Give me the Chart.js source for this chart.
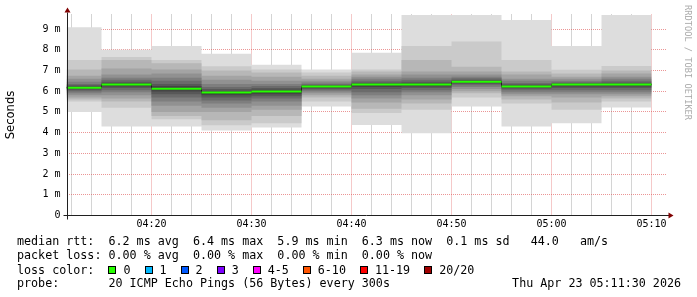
<!DOCTYPE html>
<html>
<head>
<meta charset="utf-8">
<script src="https://cdn.jsdelivr.net/npm/chart.js@4.4.1/dist/chart.umd.min.js"></script>
<style>
html, body { margin: 0; padding: 0; background: #fff; }
#wrap { position: relative; width: 697px; height: 297px; overflow: hidden; background: #fff; }
#chart { position: absolute; left: 0; top: 0; }
.row { position: absolute; left: 17px; font: 11.7px 'DejaVu Sans Mono', monospace; white-space: pre; color: #000; line-height: 14px; }
.box { display: inline-block; width: 6px; height: 6px; border: 1px solid #000; margin-right: 7px; vertical-align: 0px; }
.item { margin-right: 14px; }
#stamp { position: absolute; right: 16px; top: 276px; font: 11.7px 'DejaVu Sans Mono', monospace; white-space: pre; line-height: 14px; }
#credit { position: absolute; left: 693px; top: 5px; transform-origin: 0 0; transform: rotate(90deg); font: 8.7px 'DejaVu Sans Mono', monospace; color: #aaa; white-space: pre; line-height: 10px; }
</style>
</head>
<body>
<div id="wrap">
  <canvas id="chart" width="697" height="297"></canvas>
  <div class="row" style="top:234px">median rtt:  6.2 ms avg  6.4 ms max  5.9 ms min  6.3 ms now  0.1 ms sd   44.0   am/s</div>
  <div class="row" style="top:248px">packet loss: 0.00 % avg  0.00 % max  0.00 % min  0.00 % now</div>
  <div class="row" id="lossRow" style="top:263px">loss color:  </div>
  <div class="row" style="top:276px">probe:       20 ICMP Echo Pings (56 Bytes) every 300s</div>
  <div id="stamp">Thu Apr 23 05:11:30 2026</div>
  <div id="credit">RRDTOOL / TOBI OETIKER</div>
</div>
<script>
// minutes after 04:00; last entry closes the final 5 minute step
const stepStart = [11.5, 15, 20, 25, 30, 35, 40, 45, 50, 55, 60, 65, 70];
const timeTickMin = [20, 30, 40, 50, 60, 70];
const timeTickLabels = ['04:20', '04:30', '04:40', '04:50', '05:00', '05:10'];

// median rtt per step, ms
const medianRtt = [6.17, 6.32, 6.12, 5.93, 5.98, 6.22, 6.32, 6.32, 6.46, 6.22, 6.32, 6.32];

// the 20 sorted pings of each step, ms
const rtt0411 = [5.00, 5.50, 5.60, 5.70, 5.80, 5.90, 5.98, 6.05, 6.10, 6.15, 6.19, 6.23, 6.28, 6.35, 6.45, 6.60, 6.75, 7.05, 7.50, 9.08];
const rtt0415 = [4.30, 5.20, 5.50, 5.65, 5.80, 5.95, 6.05, 6.15, 6.22, 6.28, 6.35, 6.40, 6.45, 6.55, 6.65, 6.80, 7.10, 7.50, 7.65, 8.00];
const rtt0420 = [4.29, 4.65, 4.80, 5.00, 5.30, 5.50, 5.70, 5.85, 5.98, 6.08, 6.15, 6.25, 6.35, 6.50, 6.65, 6.85, 7.05, 7.35, 7.50, 8.18];
const rtt0425 = [4.10, 4.35, 4.60, 5.00, 5.20, 5.40, 5.55, 5.70, 5.80, 5.88, 5.96, 6.00, 6.10, 6.20, 6.35, 6.55, 6.75, 7.00, 7.20, 7.80];
const rtt0430 = [4.25, 4.45, 4.80, 5.10, 5.30, 5.50, 5.65, 5.75, 5.85, 5.93, 6.01, 6.07, 6.15, 6.25, 6.35, 6.50, 6.70, 6.90, 7.05, 7.27];
const rtt0435 = [5.26, 5.50, 5.70, 5.80, 5.90, 5.98, 6.05, 6.10, 6.15, 6.20, 6.23, 6.26, 6.30, 6.35, 6.42, 6.50, 6.60, 6.75, 6.90, 7.05];
const rtt0440 = [4.37, 4.95, 5.15, 5.45, 5.65, 5.80, 5.95, 6.10, 6.20, 6.28, 6.34, 6.38, 6.42, 6.50, 6.60, 6.70, 6.80, 6.95, 7.05, 7.86];
const rtt0445 = [3.97, 5.10, 5.40, 5.60, 5.80, 5.95, 6.05, 6.15, 6.22, 6.28, 6.35, 6.40, 6.45, 6.55, 6.65, 6.80, 6.95, 7.50, 8.18, 9.68];
const rtt0450 = [5.26, 5.70, 5.90, 6.00, 6.10, 6.20, 6.28, 6.35, 6.40, 6.44, 6.47, 6.50, 6.55, 6.62, 6.70, 6.80, 6.95, 7.18, 8.40, 9.68];
const rtt0455 = [4.29, 5.40, 5.60, 5.75, 5.85, 5.95, 6.05, 6.12, 6.17, 6.20, 6.24, 6.28, 6.33, 6.40, 6.50, 6.60, 6.80, 6.95, 7.50, 9.44];
const rtt0500 = [4.45, 5.10, 5.45, 5.70, 5.85, 5.95, 6.05, 6.15, 6.23, 6.30, 6.34, 6.36, 6.40, 6.45, 6.50, 6.60, 6.70, 6.85, 7.03, 8.18];
const rtt0505 = [5.21, 5.50, 5.65, 5.75, 5.85, 5.95, 6.05, 6.15, 6.23, 6.30, 6.34, 6.37, 6.42, 6.50, 6.60, 6.70, 6.85, 7.00, 7.22, 9.68];
const steps = [rtt0411, rtt0415, rtt0420, rtt0425, rtt0430, rtt0435, rtt0440, rtt0445, rtt0450, rtt0455, rtt0500, rtt0505];

const lossLabels = ['0', '1', '2', '3', '4-5', '6-10', '11-19', '20/20'];
const lossColors = ['#26ff00', '#00b8ff', '#0059ff', '#7e00ff', '#ff00ff', '#ff5500', '#ff0000', '#a10000'];

const gridMinor = 'rgba(143, 143, 143, 0.75)';
const gridMajor = 'rgba(222, 79, 79, 0.6)';
const monoFont = "'DejaVu Sans Mono', monospace";

const lossRow = document.getElementById('lossRow');
lossLabels.forEach((label, i) => {
  const item = document.createElement('span');
  item.className = 'item';
  item.innerHTML = '<span class="box" style="background:' + lossColors[i] + '"></span>' + label;
  lossRow.appendChild(item);
});

// series: value of step i holds from stepStart[i] to stepStart[i+1]
function stepSeries(values) {
  const pts = values.map((v, i) => ({ x: stepStart[i], y: v }));
  pts.push({ x: stepStart[stepStart.length - 1], y: values[values.length - 1] });
  return pts;
}

// flat pieces only, no vertical joins (the coloured median bar)
function flatPieces(values) {
  const pts = [];
  values.forEach((v, i) => {
    pts.push({ x: stepStart[i], y: v }, { x: stepStart[i + 1], y: v }, { x: stepStart[i + 1], y: null });
  });
  return pts;
}

const datasets = [];
const pings = steps[0].length;
for (let k = 0; k < pings / 2; k++) {
  const gray = Math.floor(190 / (pings / 2) * (pings / 2 - (k + 1))) + 50;
  const color = 'rgb(' + gray + ',' + gray + ',' + gray + ')';
  datasets.push({
    data: stepSeries(steps.map(s => s[k])),
    stepped: 'before', borderWidth: 0, pointRadius: 0, fill: false, order: 20 - k
  });
  datasets.push({
    data: stepSeries(steps.map(s => s[pings - 1 - k])),
    stepped: 'before', borderWidth: 0, pointRadius: 0, fill: '-1', backgroundColor: color, order: 20 - k
  });
}
datasets.push({
  data: stepSeries(medianRtt),
  stepped: 'before', borderColor: '#202020', borderWidth: 1, pointRadius: 0, fill: false, order: 1
});
datasets.push({
  data: flatPieces(medianRtt),
  borderColor: lossColors[0], borderWidth: 2, borderCapStyle: 'butt', pointRadius: 0, fill: false, spanGaps: false, order: 0
});

const axesPlugin = {
  id: 'rrdAxes',
  afterDraw(chart) {
    const { ctx, chartArea: a } = chart;
    const x0 = Math.round(a.left) + 0.5;
    const y0 = Math.round(a.bottom) - 0.5;
    ctx.save();
    ctx.strokeStyle = '#202020';
    ctx.lineWidth = 1;
    ctx.beginPath();
    ctx.moveTo(x0, y0 + 4); ctx.lineTo(x0, a.top - 2);
    ctx.moveTo(x0 - 4, y0); ctx.lineTo(a.right + 3, y0);
    ctx.stroke();
    ctx.fillStyle = '#800000';
    ctx.beginPath();
    ctx.moveTo(x0, a.top - 7); ctx.lineTo(x0 - 3, a.top - 2); ctx.lineTo(x0 + 3, a.top - 2); ctx.closePath();
    ctx.fill();
    ctx.beginPath();
    ctx.moveTo(a.right + 7, y0); ctx.lineTo(a.right + 2, y0 - 3); ctx.lineTo(a.right + 2, y0 + 3); ctx.closePath();
    ctx.fill();
    ctx.restore();
  }
};

new Chart(document.getElementById('chart'), {
  type: 'line',
  data: { datasets },
  options: {
    responsive: false,
    animation: false,
    devicePixelRatio: 1,
    layout: { padding: { top: 14.5, right: 30.5, bottom: 0, left: 0 } },
    plugins: { legend: { display: false }, tooltip: { enabled: false } },
    scales: {
      x: {
        type: 'linear',
        min: stepStart[0],
        max: stepStart[0] + 60,
        z: 1,
        afterFit: s => { s.height = 81.5; },
        afterBuildTicks: s => {
          const t = [];
          for (let m = 12; m <= s.max; m += 2) t.push({ value: m });
          s.ticks = t;
        },
        grid: {
          drawTicks: false,
          color: c => (c.tick && timeTickMin.includes(c.tick.value)) ? gridMajor : gridMinor
        },
        border: { display: false, dash: [1, 1] },
        ticks: {
          autoSkip: false, maxRotation: 0, padding: 3, color: '#000',
          font: { family: monoFont, size: 10 },
          callback: v => { const i = timeTickMin.indexOf(v); return i >= 0 ? timeTickLabels[i] : ''; }
        }
      },
      y: {
        min: 0,
        max: 9.7,
        z: 1,
        afterFit: s => { s.width = 66.5; },
        afterBuildTicks: s => {
          const t = [];
          for (let v = 0; v <= 9.5; v += 0.5) t.push({ value: v });
          s.ticks = t;
        },
        grid: {
          drawTicks: false,
          color: c => (c.tick && c.tick.value % 1 === 0) ? gridMajor : gridMinor
        },
        border: { display: false, dash: [1, 1] },
        title: {
          display: true, text: 'Seconds', color: '#000',
          font: { family: "'DejaVu Sans', sans-serif", size: 11.6 },
          padding: { top: 4, bottom: 0 }
        },
        ticks: {
          padding: 6, color: '#000',
          font: { family: monoFont, size: 10 },
          callback: v => v % 1 !== 0 ? '' : (v === 0 ? '0' : v + ' m')
        }
      }
    }
  },
  plugins: [axesPlugin]
});
</script>
</body>
</html>
